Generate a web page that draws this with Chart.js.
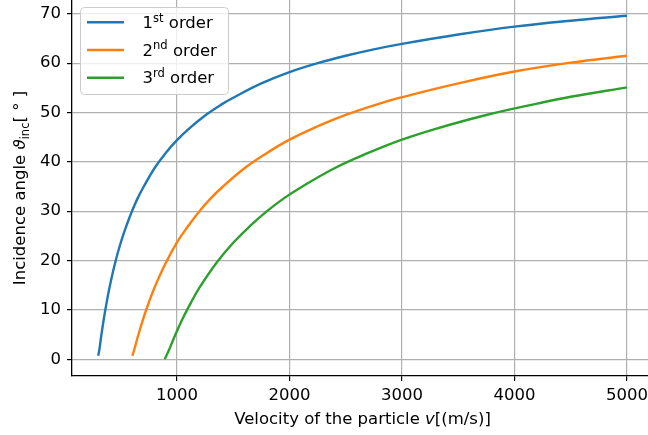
<!DOCTYPE html>
<html>
<head>
<meta charset="utf-8">
<script src="https://cdn.jsdelivr.net/npm/chart.js@4"></script>
<style>
  html, body { margin: 0; padding: 0; background: #fff; }
  #wrap { width: 648px; height: 435px; }
</style>
</head>
<body>
<div id="wrap"><canvas id="angleChart" width="648" height="435"></canvas></div>
<script>
// values
var v1 = [300, 310, 325, 350, 375, 400, 450, 500, 550, 600, 650, 700, 800, 900, 1000, 1100, 1250, 1400, 1500, 1750, 2000, 2250, 2500, 2750, 3000, 3500, 4000, 4500, 5000];
var theta1 = [0.7, 1.9, 4.4, 8.2, 11.5, 14.5, 19.5, 23.6, 27.0, 30.0, 32.6, 34.8, 38.7, 41.8, 44.4, 46.6, 49.4, 51.7, 53.0, 55.9, 58.2, 60.0, 61.5, 62.8, 63.9, 65.8, 67.4, 68.6, 69.6];

var v2 = [603, 620, 650, 700, 750, 800, 900, 1000, 1100, 1200, 1300, 1400, 1600, 1800, 2000, 2200, 2500, 2800, 3000, 3500, 4000, 4500, 5000];
var theta2 = [0.7, 1.9, 4.4, 8.2, 11.5, 14.5, 19.5, 23.7, 27.0, 30.0, 32.6, 34.8, 38.7, 41.8, 44.5, 46.7, 49.5, 51.8, 53.1, 55.9, 58.3, 60.1, 61.5];

var v3 = [891, 930, 975, 1050, 1125, 1200, 1350, 1500, 1650, 1800, 1950, 2100, 2400, 2700, 3000, 3300, 3750, 4200, 4500, 5000];
var theta3 = [0.0, 1.9, 4.4, 8.2, 11.5, 14.5, 19.5, 23.6, 27.0, 30.0, 32.6, 34.8, 38.7, 41.8, 44.5, 46.7, 49.5, 51.8, 53.2, 55.1];

var orderNums = ['1', '2', '3'];
var orderSup = ['st', 'nd', 'rd'];
var colors = ['#1f77b4', '#ff7f0e', '#2ca02c'];

var xTicks = [1000, 2000, 3000, 4000, 5000];
var yTicks = [0, 10, 20, 30, 40, 50, 60, 70];

var FONT = 'DejaVu Sans';
var FS = 16.5;

function toPoints(xs, ys) {
    return xs.map(function(x, i) { return {x: x, y: ys[i]}; });
}

// draws text made of pieces: normal, italic, subscript, superscript
function richWidth(ctx, parts, size) {
    var w = 0;
    parts.forEach(function(p) {
        var s = (p.sub || p.sup) ? size * 0.7 : size;
        ctx.font = (p.it ? 'italic ' : '') + s + 'px "' + FONT + '"';
        w += ctx.measureText(p.t).width;
    });
    return w;
}
function drawRich(ctx, parts, x, y, size) {
    var cx = x;
    parts.forEach(function(p) {
        var s = (p.sub || p.sup) ? size * 0.7 : size;
        var dy = p.sub ? size * 0.22 : (p.sup ? -size * 0.38 : 0);
        ctx.font = (p.it ? 'italic ' : '') + s + 'px "' + FONT + '"';
        ctx.fillText(p.t, cx, y + dy);
        cx += ctx.measureText(p.t).width;
    });
}

var extras = {
    id: 'extras',
    afterDraw: function(chart) {
        var ctx = chart.ctx;
        ctx.save();
        ctx.fillStyle = '#000';
        ctx.textBaseline = 'alphabetic';
        ctx.textAlign = 'left';

        // x axis title
        var xt = [{t: 'Velocity of the particle '}, {t: 'v', it: true}, {t: '[(m/s)]'}];
        var w = richWidth(ctx, xt, FS);
        drawRich(ctx, xt, 362.5 - w / 2, 424, FS);

        // y axis title
        var yt = [{t: 'Incidence angle '}, {t: 'ϑ', it: true}, {t: 'inc', sub: true}, {t: '[ ° ]'}];
        ctx.save();
        ctx.translate(25, 188);
        ctx.rotate(-Math.PI / 2);
        w = richWidth(ctx, yt, FS);
        drawRich(ctx, yt, -w / 2, 0, FS);
        ctx.restore();

        // legend
        ctx.beginPath();
        ctx.roundRect(80.5, 7.5, 148, 87, 4);
        ctx.fillStyle = 'rgba(255,255,255,0.8)';
        ctx.fill();
        ctx.strokeStyle = '#cccccc';
        ctx.lineWidth = 1;
        ctx.stroke();
        for (var i = 0; i < orderNums.length; i++) {
            var ly = 22.3 + i * 27.7;
            ctx.beginPath();
            ctx.moveTo(87, ly);
            ctx.lineTo(124, ly);
            ctx.strokeStyle = colors[i];
            ctx.lineWidth = 2.4;
            ctx.stroke();
            ctx.fillStyle = '#000';
            drawRich(ctx, [{t: orderNums[i]}, {t: orderSup[i], sup: true}, {t: ' order'}], 142.5, ly + 5.5, FS);
        }
        ctx.restore();
    }
};

var ctx = document.getElementById('angleChart').getContext('2d');
var chart = new Chart(ctx, {
    type: 'line',
    data: {
        datasets: [
            {label: '1st order', data: toPoints(v1, theta1), borderColor: colors[0]},
            {label: '2nd order', data: toPoints(v2, theta2), borderColor: colors[1]},
            {label: '3rd order', data: toPoints(v3, theta3), borderColor: colors[2]}
        ]
    },
    options: {
        responsive: false,
        animation: false,
        devicePixelRatio: 1,
        layout: {padding: 0},
        elements: {
            point: {radius: 0},
            line: {borderWidth: 2.4, tension: 0.4, fill: false}
        },
        plugins: {
            legend: {display: false},
            tooltip: {enabled: false}
        },
        scales: {
            x: {
                type: 'linear',
                min: 67,
                max: 5187,
                afterBuildTicks: function(s) { s.ticks = xTicks.map(function(v) { return {value: v}; }); },
                afterFit: function(s) {
                    s.height = 59;
                    s.paddingLeft = 0;
                    s.paddingRight = 0;
                },
                grid: {color: '#b0b0b0', lineWidth: 1.2, tickColor: '#000', tickLength: 5, tickWidth: 1.2},
                border: {color: '#000', width: 1.3},
                ticks: {
                    color: '#000',
                    font: {family: FONT, size: FS},
                    padding: 5,
                    maxRotation: 0,
                    callback: function(v) { return String(v); }
                }
            },
            y: {
                min: -3.4,
                max: 72.8,
                afterBuildTicks: function(s) { s.ticks = yTicks.map(function(v) { return {value: v}; }); },
                afterFit: function(s) {
                    s.width = 72;
                    s.paddingTop = 0;
                    s.paddingBottom = 0;
                },
                grid: {color: '#b0b0b0', lineWidth: 1.2, tickColor: '#000', tickLength: 5, tickWidth: 1.2},
                border: {color: '#000', width: 1.3},
                ticks: {
                    color: '#000',
                    font: {family: FONT, size: FS},
                    padding: 6,
                    callback: function(v) { return String(v); }
                }
            }
        }
    },
    plugins: [extras]
});
</script>
</body>
</html>
